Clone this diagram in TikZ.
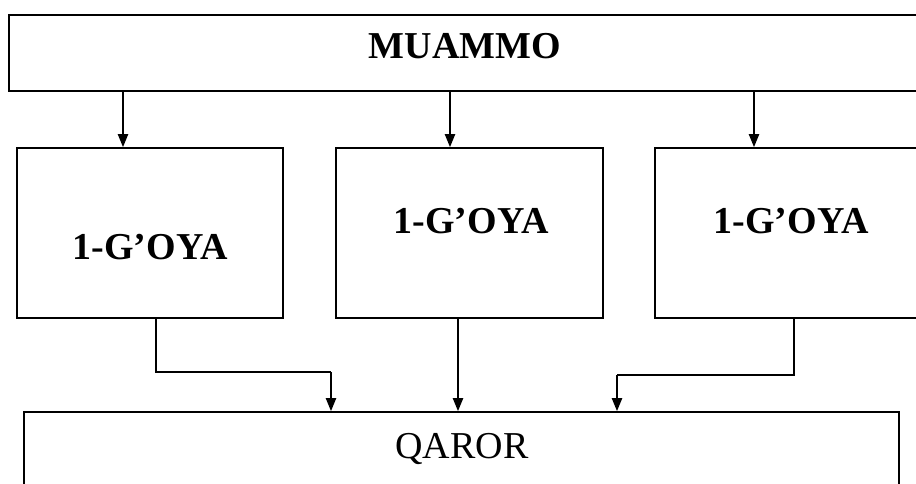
\documentclass[tikz,border=0pt]{standalone}
\usepackage{fontspec}
\setmainfont{Liberation Serif}
\usetikzlibrary{arrows.meta,calc}
\begin{document}
\begin{tikzpicture}[x=1pt,y=-1pt,
  boxstyle/.style={draw=black,line width=1.6pt,inner sep=0pt,rectangle},
  bigtext/.style={font=\fontsize{38}{40}\selectfont\bfseries,inner sep=0pt,anchor=base},
  regtext/.style={font=\fontsize{38}{40}\selectfont,inner sep=0pt,anchor=base},
  arr/.style={line width=2pt,-{Triangle[width=10pt,length=13pt]}},
  thinline/.style={line width=1.4pt}]
\useasboundingbox (0,0) rectangle (916,483);
\clip (0,0) rectangle (916,483);
% boxes
\node[boxstyle,minimum width=912pt,minimum height=76pt] (muammo) at (465,53) {};
\node[boxstyle,minimum width=266pt,minimum height=170pt] (g1) at (150,233) {};
\node[boxstyle,minimum width=267pt,minimum height=170pt] (g2) at (469.5,233) {};
\node[boxstyle,minimum width=267pt,minimum height=170pt] (g3) at (788.5,233) {};
\node[boxstyle,minimum width=875pt,minimum height=120pt] (qaror) at (461.5,472) {};
% texts
\node[bigtext] (tm) at (465,58) {MUAMMO};
\node[bigtext] (t1) at (150,259) {1-G’OYA};
\node[bigtext] (t2) at (471,233) {1-G’OYA};
\node[bigtext] (t3) at (791,233) {1-G’OYA};
\node[regtext] (tq) at (462,458) {QAROR};
% top arrows
\draw[arr] ([xshift=-27pt]g1.north |- muammo.south) -- ([xshift=-27pt]g1.north);
\draw[arr] ([xshift=-19.5pt]g2.north |- muammo.south) -- ([xshift=-19.5pt]g2.north);
\draw[arr] ([xshift=-34.5pt]g3.north |- muammo.south) -- ([xshift=-34.5pt]g3.north);
% bottom connectors
\coordinate (j1) at (331,372);
\coordinate (j3) at (617,375);
\draw[thinline] ([xshift=6pt]g1.south) |- (j1);
\draw[arr] (j1) -- (j1 |- qaror.north);
\draw[arr] ([xshift=-11.5pt]g2.south) -- ([xshift=-11.5pt]g2.south |- qaror.north);
\draw[thinline] ([xshift=5.5pt]g3.south) |- (j3);
\draw[arr] (j3) -- (j3 |- qaror.north);
\end{tikzpicture}
\end{document}
